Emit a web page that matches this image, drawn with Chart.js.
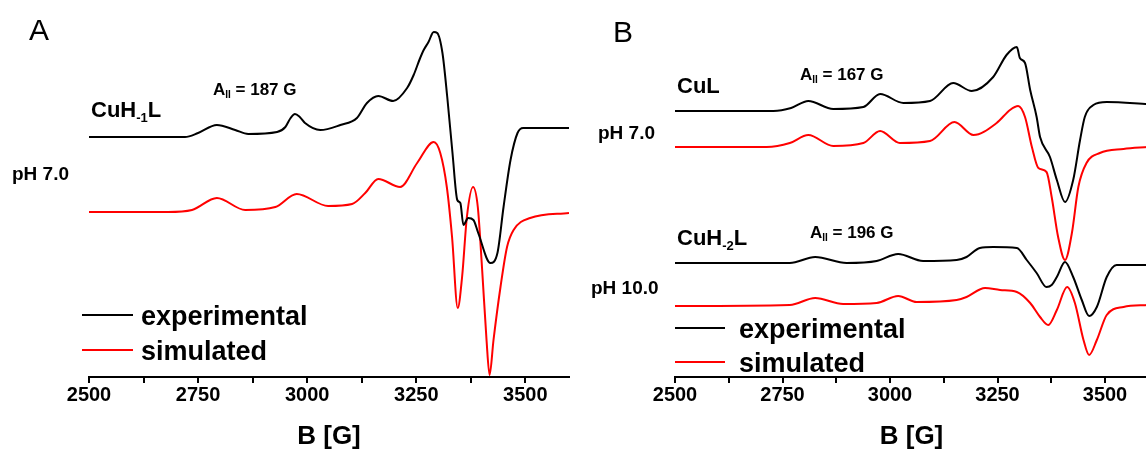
<!DOCTYPE html>
<html>
<head>
<meta charset="utf-8">
<script src="https://cdn.jsdelivr.net/npm/chart.js@4.4.1/dist/chart.umd.min.js"></script>
<style>
  html, body { margin: 0; padding: 0; background: #fff; overflow: hidden; }
  #wrap { position: relative; width: 1146px; height: 452px; overflow: hidden; }
  #chartA { position: absolute; left: 0; top: 0; }
  #chartB { position: absolute; left: 580px; top: 0; }
</style>
</head>
<body>
<div id="wrap">
  <canvas id="chartA" width="580" height="452"></canvas>
  <canvas id="chartB" width="590" height="452"></canvas>
</div>
<script>
// x axis (magnetic field, G)
const fieldMin = 2500;
const fieldMax = 3600;
const tickValues = [2500, 2625, 2750, 2875, 3000, 3125, 3250, 3375, 3500];

// panel A: CuH-1L, pH 7.0
const fieldA_exp = [2500, 2600, 2720, 2750, 2793, 2835, 2865, 2931, 2950, 2962, 2972, 2983, 2995, 3030, 3076, 3114, 3137, 3163, 3197, 3229, 3244, 3258, 3267, 3278, 3290, 3298, 3310, 3321, 3333, 3344, 3351, 3358, 3369, 3381, 3392, 3420, 3436, 3450, 3466, 3482, 3495, 3540, 3600];
const intA_exp   = [0, 0, 0, 4, 12, 7, 3, 5, 10, 19, 23, 20, 14, 7, 12, 19, 34, 41, 36, 49, 62, 78, 87, 95, 105, 104, 84, 40, -16, -63, -66, -88, -81, -83, -96, -126, -116, -70, -23, 4, 9, 9, 9];
const fieldA_sim = [2500, 2681, 2736, 2793, 2858, 2927, 2976, 3048, 3103, 3133, 3163, 3213, 3252, 3290, 3305, 3320, 3332, 3345, 3355, 3366, 3380, 3391, 3401, 3411, 3418, 3427, 3443, 3458, 3473, 3511, 3600];
const intA_sim   = [0, 0, 2, 14, 2, 5, 18, 6, 8, 19, 33, 25, 49, 70, 59, 25, -25, -96, -65, -5, 25, 5, -58, -128, -163, -128, -75, -35, -18, -6, -1];

// panel B top: CuL, pH 7.0
const fieldB1_exp = [2500, 2729, 2770, 2810, 2868, 2938, 2977, 3031, 3093, 3147, 3190, 3240, 3271, 3295, 3302, 3314, 3326, 3341, 3349, 3372, 3388, 3407, 3426, 3442, 3453, 3473, 3504, 3600];
const intB1_exp   = [0, 0, 3, 10, 2, 4, 17, 8, 10, 28, 20, 34, 56, 64, 53, 48, 21, -6, -26, -46, -69, -91, -69, -29, -6, 6, 9, 7];
const fieldB1_sim = [2500, 2713, 2767, 2810, 2868, 2938, 2977, 3023, 3093, 3150, 3194, 3248, 3279, 3298, 3314, 3330, 3345, 3364, 3376, 3391, 3407, 3423, 3438, 3457, 3488, 3543, 3600];
const intB1_sim   = [0, 0, 4, 12, 1, 4, 16, 4, 6, 25, 12, 24, 37, 41, 30, 0, -21, -25, -50, -90, -113, -86, -40, -16, -6, -2, 0];

// panel B bottom: CuH-2L, pH 10.0
const fieldB2_exp = [2500, 2767, 2826, 2899, 2969, 3019, 3077, 3155, 3178, 3209, 3240, 3295, 3318, 3341, 3364, 3376, 3388, 3407, 3426, 3446, 3463, 3481, 3504, 3527, 3600];
const intB2_exp   = [0, 0, 6, 0, 2, 9, 2, 3, 6, 15, 16, 15, 3, -10, -24, -22, -14, 1, -14, -37, -53, -44, -14, -2, -2];
const fieldB2_sim = [2500, 2767, 2826, 2891, 2969, 3019, 3062, 3155, 3178, 3221, 3256, 3295, 3326, 3349, 3368, 3388, 3412, 3430, 3450, 3463, 3481, 3504, 3543, 3600];
const intB2_sim   = [0, 1, 8, 2, 3, 10, 4, 6, 9, 18, 16, 14, 3, -11, -19, -4, 19, 3, -34, -49, -34, -9, -1, 1];

// vertical stacking offsets (arb. units)
const offA_exp = 240, offA_sim = 165;
const offB1_exp = 266, offB1_sim = 230;
const offB2_exp = 114, offB2_sim = 71;

const FONT = '"Liberation Sans", Arial, sans-serif';

function trace(fields, ints, off, color) {
  return {
    data: fields.map((f, i) => ({ x: f, y: ints[i] + off })),
    borderColor: color,
    borderWidth: 2,
    pointRadius: 0,
    fill: false,
    cubicInterpolationMode: 'monotone'
  };
}

// draws rich text pieces: [text, size, dy]
function rich(ctx, x, y, parts, weight) {
  let cx = x;
  parts.forEach(p => {
    ctx.font = (weight || 'bold') + ' ' + p[1] + 'px ' + FONT;
    ctx.fillText(p[0], cx, y + (p[2] || 0));
    cx += ctx.measureText(p[0]).width;
  });
}

function notes(items) {
  return {
    id: 'notes',
    afterDraw(chart) {
      const ctx = chart.ctx;
      ctx.save();
      ctx.fillStyle = '#000';
      ctx.textBaseline = 'alphabetic';
      ctx.textAlign = 'left';
      items.forEach(it => {
        if (it.line) {
          ctx.strokeStyle = it.line;
          ctx.lineWidth = 2;
          ctx.beginPath();
          ctx.moveTo(it.x, it.y);
          ctx.lineTo(it.x + it.w, it.y);
          ctx.stroke();
        } else {
          rich(ctx, it.x, it.y, it.parts, it.weight);
        }
      });
      ctx.restore();
    }
  };
}

function makeChart(id, datasets, padLeft, padRight, items) {
  return new Chart(document.getElementById(id), {
    type: 'line',
    data: { datasets: datasets },
    options: {
      responsive: false,
      animation: false,
      layout: { padding: { left: padLeft, right: padRight, top: 17, bottom: 0 } },
      plugins: { legend: { display: false }, tooltip: { enabled: false } },
      scales: {
        x: {
          type: 'linear',
          min: fieldMin,
          max: fieldMax,
          afterBuildTicks: s => { s.ticks = tickValues.map(v => ({ value: v })); },
          afterFit: s => { s.height = 75; },
          ticks: {
            autoSkip: false,
            maxRotation: 0,
            padding: 0,
            color: '#000',
            font: { family: FONT, size: 20, weight: 'bold' },
            callback: v => (v % 250 === 0 ? String(v) : '')
          },
          grid: { drawOnChartArea: false, drawTicks: true, tickLength: 6, color: '#000', lineWidth: 2 },
          border: { color: '#000', width: 2 },
          title: {
            display: true,
            text: 'B [G]',
            color: '#000',
            font: { family: FONT, size: 26, weight: 'bold' },
            padding: { top: 0, bottom: 0 }
          }
        },
        y: { display: false, min: 0, max: 360 }
      }
    },
    plugins: [notes(items)]
  });
}

makeChart('chartA', [
  trace(fieldA_exp, intA_exp, offA_exp, '#000000'),
  trace(fieldA_sim, intA_sim, offA_sim, '#ff0000')
], 89, 11, [
  { x: 29, y: 40, parts: [['A', 30]], weight: 'normal' },
  { x: 91, y: 117, parts: [['CuH', 22], ['-1', 13, 5], ['L', 22]] },
  { x: 213, y: 95, parts: [['A', 17], ['II', 10, 3], [' = 187 G', 17]] },
  { x: 12, y: 180, parts: [['pH 7.0', 19]] },
  { line: '#000', x: 82, y: 315, w: 51 },
  { x: 141, y: 325, parts: [['experimental', 27]] },
  { line: '#ff0000', x: 82, y: 350, w: 51 },
  { x: 141, y: 360, parts: [['simulated', 27]] }
]);

makeChart('chartB', [
  trace(fieldB1_exp, intB1_exp, offB1_exp, '#000000'),
  trace(fieldB1_sim, intB1_sim, offB1_sim, '#ff0000'),
  trace(fieldB2_exp, intB2_exp, offB2_exp, '#000000'),
  trace(fieldB2_sim, intB2_sim, offB2_sim, '#ff0000')
], 95, 22, [
  { x: 33, y: 42, parts: [['B', 30]], weight: 'normal' },
  { x: 97, y: 93, parts: [['CuL', 22]] },
  { x: 220, y: 80, parts: [['A', 17], ['II', 10, 3], [' = 167 G', 17]] },
  { x: 18, y: 139, parts: [['pH 7.0', 19]] },
  { x: 97, y: 245, parts: [['CuH', 22], ['-2', 13, 5], ['L', 22]] },
  { x: 230, y: 238, parts: [['A', 17], ['II', 10, 3], [' = 196 G', 17]] },
  { x: 11, y: 294, parts: [['pH 10.0', 19]] },
  { line: '#000', x: 95, y: 328, w: 50 },
  { x: 159, y: 338, parts: [['experimental', 27]] },
  { line: '#ff0000', x: 95, y: 362, w: 50 },
  { x: 159, y: 372, parts: [['simulated', 27]] }
]);
</script>
</body>
</html>
